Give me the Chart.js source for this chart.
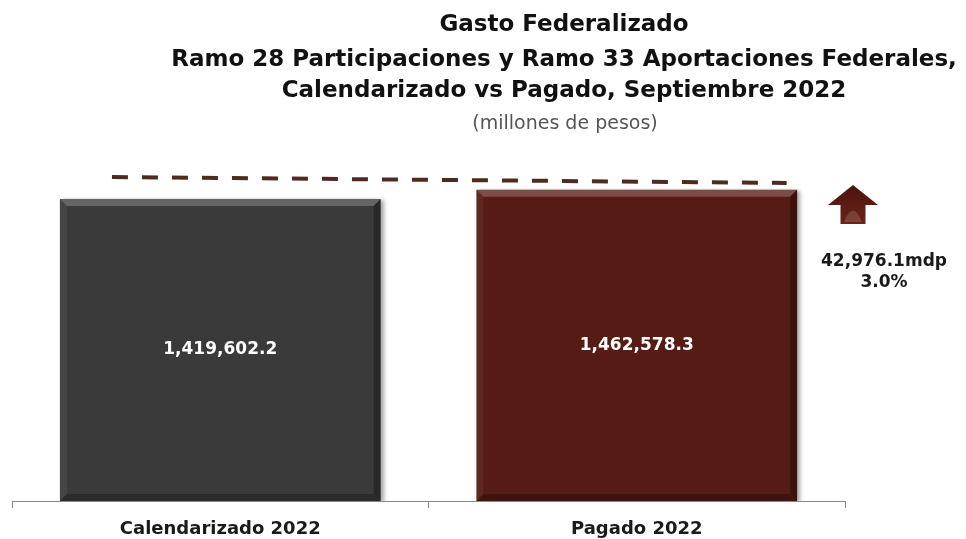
<!DOCTYPE html>
<html lang="es">
<head>
    <meta charset="UTF-8">
    <title>Gasto Federalizado</title>
    <script src="https://cdn.jsdelivr.net/npm/chart.js"></script>
    <style>
        body { margin: 0; background: #fff; }
        #wrap { width: 966px; height: 539px; }
    </style>
</head>
<body>
    <div id="wrap">
        <canvas id="gastoChart" width="966" height="539"></canvas>
    </div>

    <script>
        // Datos (millones de pesos)
        const categorias = ['Calendarizado 2022', 'Pagado 2022'];
        const montos = [1419602.2, 1462578.3];
        const coloresBarras = ['#3b3a3a', '#561b13'];

        // Línea punteada de referencia (eje auxiliar 0..2)
        const lineaX = [0.24, 1.86];
        const lineaY = [1523000, 1495000];

        const tituloLineas = [
            'Gasto Federalizado',
            'Ramo 28 Participaciones y Ramo 33 Aportaciones Federales,',
            'Calendarizado vs Pagado, Septiembre 2022'
        ];
        const subtitulo = '(millones de pesos)';

        const fuente = "'Century Gothic', 'DejaVu Sans', sans-serif";

        function fmt(v) {
            return v.toLocaleString('en-US', { minimumFractionDigits: 1, maximumFractionDigits: 1 });
        }

        // diferencia pagado vs calendarizado
        const diferencia = montos[1] - montos[0];
        const variacion = diferencia / montos[0] * 100;

        // Plugin: título, bisel de barras, etiquetas y flecha
        const decoracion = {
            id: 'decoracion',
            beforeDatasetDraw(chart, args) {
                if (args.index === 0) {
                    const ctx = chart.ctx;
                    ctx.save();
                    ctx.shadowColor = 'rgba(0,0,0,0.35)';
                    ctx.shadowBlur = 4;
                    ctx.shadowOffsetX = 3;
                    ctx.shadowOffsetY = 1;
                }
            },
            afterDatasetDraw(chart, args) {
                if (args.index !== 0) return;
                const ctx = chart.ctx;
                ctx.restore();
                const meta = chart.getDatasetMeta(0);
                meta.data.forEach((bar, i) => {
                    const l = bar.x - bar.width / 2, r = bar.x + bar.width / 2;
                    const t = bar.y, b = bar.base, e = 7;
                    ctx.save();
                    // arriba
                    ctx.fillStyle = 'rgba(255,255,255,0.22)';
                    ctx.beginPath();
                    ctx.moveTo(l, t); ctx.lineTo(r, t); ctx.lineTo(r - e, t + e); ctx.lineTo(l + e, t + e);
                    ctx.closePath(); ctx.fill();
                    // izquierda
                    ctx.fillStyle = 'rgba(255,255,255,0.06)';
                    ctx.beginPath();
                    ctx.moveTo(l, t); ctx.lineTo(l + e, t + e); ctx.lineTo(l + e, b - e); ctx.lineTo(l, b);
                    ctx.closePath(); ctx.fill();
                    // derecha
                    ctx.fillStyle = 'rgba(0,0,0,0.3)';
                    ctx.beginPath();
                    ctx.moveTo(r, t); ctx.lineTo(r - e, t + e); ctx.lineTo(r - e, b - e); ctx.lineTo(r, b);
                    ctx.closePath(); ctx.fill();
                    // abajo
                    ctx.fillStyle = 'rgba(0,0,0,0.25)';
                    ctx.beginPath();
                    ctx.moveTo(l, b); ctx.lineTo(l + e, b - e); ctx.lineTo(r - e, b - e); ctx.lineTo(r, b);
                    ctx.closePath(); ctx.fill();

                    // valor
                    ctx.fillStyle = '#ffffff';
                    ctx.font = 'bold 17px ' + fuente;
                    ctx.textAlign = 'center';
                    ctx.textBaseline = 'middle';
                    ctx.fillText(fmt(montos[i]), bar.x, (t + b) / 2);
                    ctx.restore();
                });
            },
            afterDraw(chart) {
                const ctx = chart.ctx;
                const area = chart.chartArea;
                ctx.save();
                ctx.textAlign = 'center';
                ctx.textBaseline = 'middle';
                ctx.fillStyle = '#111';
                ctx.font = 'bold 23px ' + fuente;
                const ys = [25, 60, 91];
                tituloLineas.forEach((txt, i) => ctx.fillText(txt, 564, ys[i]));
                ctx.font = '19px ' + fuente;
                ctx.fillStyle = '#555';
                ctx.fillText(subtitulo, 565, 124);

                // flecha
                const cx = area.right + 8, tip = 185, hb = 205, bot = 224;
                const grad = ctx.createLinearGradient(0, tip, 0, bot);
                grad.addColorStop(0, '#4a130d');
                grad.addColorStop(1, '#6a2419');
                ctx.fillStyle = grad;
                ctx.beginPath();
                ctx.moveTo(cx, tip);
                ctx.lineTo(cx + 25, hb);
                ctx.lineTo(cx + 12.5, hb);
                ctx.lineTo(cx + 12.5, bot);
                ctx.lineTo(cx - 12.5, bot);
                ctx.lineTo(cx - 12.5, hb);
                ctx.lineTo(cx - 25, hb);
                ctx.closePath();
                ctx.fill();
                ctx.fillStyle = 'rgba(255,255,255,0.15)';
                ctx.beginPath();
                ctx.moveTo(cx - 9, bot - 2);
                ctx.quadraticCurveTo(cx, hb - 6, cx + 9, bot - 2);
                ctx.closePath();
                ctx.fill();

                // diferencia
                ctx.fillStyle = '#1a1a1a';
                ctx.font = 'bold 17px ' + fuente;
                ctx.fillText(fmt(diferencia) + 'mdp', area.right + 39, 262);
                ctx.fillText(variacion.toFixed(1) + '%', area.right + 39, 283);
                ctx.restore();
            }
        };

        const ctx = document.getElementById('gastoChart').getContext('2d');
        const chart = new Chart(ctx, {
            type: 'bar',
            data: {
                labels: categorias,
                datasets: [
                    {
                        data: montos,
                        backgroundColor: coloresBarras,
                        borderWidth: 0,
                        grouped: false,
                        barPercentage: 0.77,
                        categoryPercentage: 1,
                        xAxisID: 'x',
                        order: 2
                    },
                    {
                        type: 'line',
                        data: lineaX.map((x, i) => ({ x: x, y: lineaY[i] })),
                        xAxisID: 'xl',
                        borderColor: '#4e2a20',
                        borderWidth: 4,
                        borderDash: [16, 14],
                        pointRadius: 0,
                        fill: false,
                        order: 1
                    }
                ]
            },
            options: {
                responsive: false,
                animation: false,
                layout: { padding: { left: 12, right: 121, top: 150, bottom: -11 } },
                plugins: {
                    legend: { display: false },
                    tooltip: { enabled: false }
                },
                scales: {
                    x: {
                        grid: {
                            display: true,
                            offset: true,
                            drawOnChartArea: false,
                            drawTicks: true,
                            tickLength: 7,
                            color: '#888'
                        },
                        border: { display: true, color: '#888', width: 1 },
                        ticks: {
                            color: '#1a1a1a',
                            padding: 12,
                            font: { family: fuente, size: 18, weight: 'bold', lineHeight: 1 }
                        }
                    },
                    xl: {
                        type: 'linear',
                        display: false,
                        offset: false,
                        min: 0,
                        max: 2
                    },
                    y: {
                        display: false,
                        min: 0,
                        max: 1650000
                    }
                }
            },
            plugins: [decoracion]
        });
    </script>
</body>
</html>
